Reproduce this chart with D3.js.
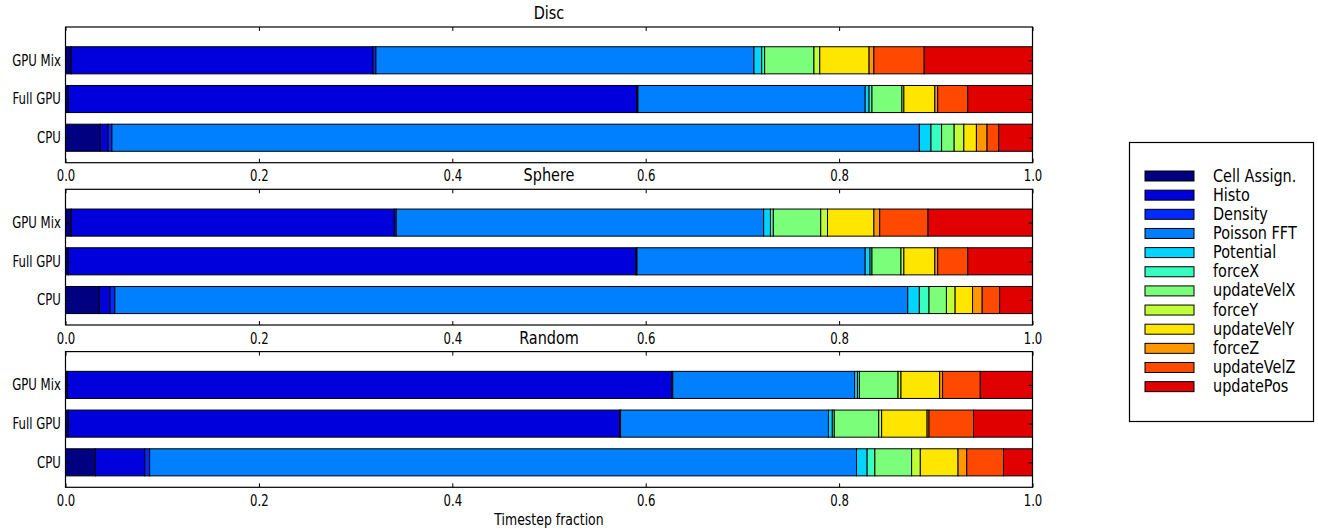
<!DOCTYPE html>
<html>
<head>
<meta charset="utf-8">
<script src="https://cdn.jsdelivr.net/npm/d3@7"></script>
<style>
  body { margin: 0; background: #fff; }
  text { font-family: "DejaVu Sans", sans-serif; fill: #000; }
</style>
</head>
<body>
<div id="chart"></div>
<script>
// step names (legend order) and bar categories (top to bottom)
const steps = ['Cell Assign.', 'Histo', 'Density', 'Poisson FFT', 'Potential', 'forceX',
  'updateVelX', 'forceY', 'updateVelY', 'forceZ', 'updateVelZ', 'updatePos'];
const configs = ['GPU Mix', 'Full GPU', 'CPU'];
const panelTitles = ['Disc', 'Sphere', 'Random'];
const xTicks = [0, 0.2, 0.4, 0.6, 0.8, 1.0];

// jet colours, one per step
const stepColors = ['#000080', '#0000dc', '#002aff', '#0080ff', '#00d4ff', '#37ffc0',
  '#7bff7b', '#c0ff37', '#ffe600', '#ff9700', '#ff4800', '#e00000'];

// timestep fraction of each step
const discGpuMix  = [0.006, 0.312, 0.003, 0.391, 0.008, 0.003, 0.051, 0.006, 0.051, 0.005, 0.052, 0.112];
const discFullGpu = [0.003, 0.588, 0.001, 0.235, 0.004, 0.003, 0.031, 0.002, 0.032, 0.003, 0.031, 0.067];
const discCpu     = [0.036, 0.008, 0.004, 0.835, 0.012, 0.011, 0.013, 0.010, 0.013, 0.011, 0.012, 0.035];

const sphereGpuMix  = [0.006, 0.334, 0.002, 0.380, 0.007, 0.003, 0.049, 0.007, 0.048, 0.006, 0.050, 0.108];
const sphereFullGpu = [0.003, 0.587, 0.001, 0.236, 0.005, 0.002, 0.030, 0.003, 0.032, 0.003, 0.031, 0.067];
const sphereCpu     = [0.035, 0.011, 0.005, 0.820, 0.012, 0.010, 0.018, 0.009, 0.018, 0.010, 0.018, 0.034];

const randomGpuMix  = [0.002, 0.625, 0.001, 0.188, 0.003, 0.002, 0.040, 0.003, 0.040, 0.003, 0.039, 0.054];
const randomFullGpu = [0.003, 0.570, 0.001, 0.215, 0.004, 0.002, 0.046, 0.003, 0.047, 0.002, 0.046, 0.061];
const randomCpu     = [0.031, 0.051, 0.005, 0.731, 0.011, 0.008, 0.038, 0.009, 0.039, 0.009, 0.038, 0.030];

const panels = [
  [discGpuMix, discFullGpu, discCpu],
  [sphereGpuMix, sphereFullGpu, sphereCpu],
  [randomGpuMix, randomFullGpu, randomCpu]
];

const width = 1318, height = 532;
const panelTops = [27, 189.3, 351.6], panelH = 135.7;
const squeeze = 'scale(0.78,1)';

const svg = d3.select('#chart').append('svg')
  .attr('width', width).attr('height', height);

const x = d3.scaleLinear().domain([0, 1]).range([65.5, 1032.5]);
const y = d3.scaleLinear().domain([-0.86, 2.645]).range([0, panelH]);
const color = d3.scaleOrdinal().domain(steps).range(stepColors);
const stack = d3.stack().keys(steps);

panels.forEach(function (rowsData, p) {
  const g = svg.append('g').attr('transform', `translate(0, ${panelTops[p]})`);

  const rows = rowsData.map(function (vals, i) {
    const row = { idx: i };
    steps.forEach(function (s, k) { row[s] = vals[k]; });
    return row;
  });
  const series = stack(rows);

  g.selectAll('g.layer')
    .data(series)
    .enter().append('g')
    .attr('class', 'layer')
    .attr('fill', d => color(d.key))
    .selectAll('rect')
    .data(d => d)
    .enter().append('rect')
    .attr('x', d => x(d[0]))
    .attr('width', d => x(d[1]) - x(d[0]))
    .attr('y', d => y(d.data.idx - 0.35))
    .attr('height', y(0.7) - y(0))
    .attr('stroke', '#000')
    .attr('stroke-width', 1);

  // frame
  g.append('rect')
    .attr('x', x(0)).attr('y', 0)
    .attr('width', x(1) - x(0)).attr('height', panelH)
    .attr('fill', 'none').attr('stroke', '#000').attr('stroke-width', 1.2);

  // axes, ticks pointing inward
  const xb = g.append('g').attr('transform', `translate(0, ${panelH})`)
    .call(d3.axisBottom(x).tickValues(xTicks).tickFormat(d3.format('.1f'))
      .tickSize(-4).tickSizeOuter(0).tickPadding(8));
  xb.selectAll('text').attr('font-size', 15).attr('transform', squeeze);

  g.append('g')
    .call(d3.axisTop(x).tickValues(xTicks).tickFormat('').tickSize(-4).tickSizeOuter(0));

  const yl = g.append('g').attr('transform', `translate(${x(0)}, 0)`)
    .call(d3.axisLeft(y).tickValues([0, 1, 2]).tickFormat(i => configs[i])
      .tickSize(-4).tickSizeOuter(0).tickPadding(6));
  yl.selectAll('text').attr('font-size', 15).attr('transform', squeeze);

  g.append('g').attr('transform', `translate(${x(1)}, 0)`)
    .call(d3.axisRight(y).tickValues([0, 1, 2]).tickFormat('').tickSize(-4).tickSizeOuter(0));

  g.selectAll('.domain').remove();
  g.selectAll('.tick line').attr('stroke', '#000');
  g.selectAll('.tick text').attr('font-family', 'DejaVu Sans').attr('fill', '#000');

  // title
  svg.append('text')
    .attr('transform', `translate(${(x(0) + x(1)) / 2}, ${panelTops[p] - 8}) ${squeeze}`)
    .attr('text-anchor', 'middle')
    .attr('font-size', 18.5)
    .text(panelTitles[p]);
});

svg.append('text')
  .attr('transform', `translate(${(x(0) + x(1)) / 2}, 525) ${squeeze}`)
  .attr('text-anchor', 'middle')
  .attr('font-size', 16)
  .text('Timestep fraction');

// legend
const legend = svg.append('g');
legend.append('rect')
  .attr('x', 1129.5).attr('y', 142.5).attr('width', 184).attr('height', 279)
  .attr('fill', '#fff').attr('stroke', '#000').attr('stroke-width', 1.2);

const item = legend.selectAll('g.item')
  .data(steps)
  .enter().append('g')
  .attr('class', 'item')
  .attr('transform', (d, i) => `translate(0, ${176 + i * 19.15})`);

item.append('rect')
  .attr('x', 1145).attr('y', -5).attr('width', 49).attr('height', 10)
  .attr('fill', d => color(d)).attr('stroke', '#000').attr('stroke-width', 1);

item.append('text')
  .attr('transform', `translate(1213, 5.5) ${squeeze}`)
  .attr('font-size', 18.5)
  .text(d => d);
</script>
</body>
</html>
